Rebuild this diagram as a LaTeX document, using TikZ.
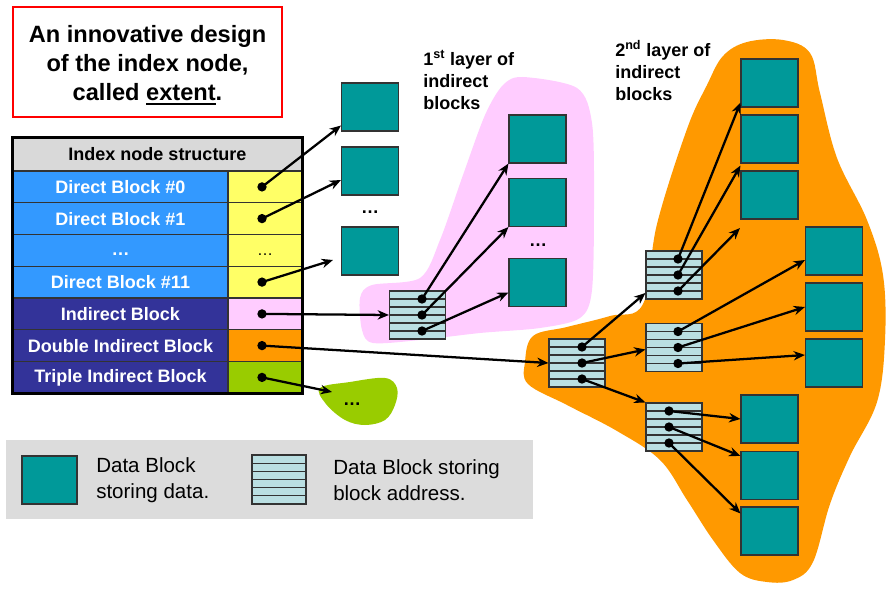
\documentclass[tikz,border=0pt]{standalone}
\usepackage{fontspec}
\setmainfont{Liberation Sans}
\usetikzlibrary{arrows.meta,calc}
\definecolor{tealblk}{HTML}{009999}
\definecolor{addrfill}{HTML}{BADFE2}
\definecolor{hdrgray}{HTML}{D9D9D9}
\definecolor{dirblue}{HTML}{3399FF}
\definecolor{navy}{HTML}{333399}
\definecolor{yel}{HTML}{FFFF66}
\definecolor{pinkc}{HTML}{FFCCFF}
\definecolor{orangec}{HTML}{FF9900}
\definecolor{greenc}{HTML}{99CC00}
\definecolor{leggray}{HTML}{DCDCDC}
\definecolor{edge}{HTML}{333333}
\newsavebox\ulbox
\newcommand\thickul[1]{\sbox\ulbox{#1}\rlap{\rule[-3.5pt]{\wd\ulbox}{1.6pt}}\usebox\ulbox}
\tikzset{
  datablk/.style={draw=edge, line width=0.8pt, fill=tealblk, inner sep=0pt, minimum width=42.75pt, minimum height=36pt},
  addrblk/.style={draw=edge, line width=0.8pt, fill=addrfill, inner sep=0pt, minimum width=42pt, minimum height=36pt,
    path picture={\foreach \i in {1,...,5}{\draw[edge, line width=0.8pt] ($(path picture bounding box.north west)!\i/6!(path picture bounding box.south west)$) -- ($(path picture bounding box.north east)!\i/6!(path picture bounding box.south east)$);}}},
  lcell/.style={draw=edge, line width=0.8pt, inner sep=0pt, minimum width=161.25pt, minimum height=23.8pt, text=white, font=\fontsize{13.5}{16}\selectfont\bfseries},
  vcell/.style={draw=edge, line width=0.8pt, inner sep=0pt, minimum width=55.5pt, minimum height=23.8pt, font=\fontsize{13.5}{16}\selectfont\bfseries},
  dotn/.style={circle, fill=black, inner sep=0pt, minimum size=7pt},
  arr/.style={line width=1.7pt, -{Stealth[length=8.5pt,width=7pt]}},
  lbl/.style={align=left, inner sep=0pt, anchor=north west, font=\fontsize{13.5}{16.5}\selectfont\bfseries},
  legtxt/.style={align=left, inner sep=0pt, anchor=west, font=\fontsize{15.4}{19.5}\selectfont},
  ellip/.style={font=\fontsize{13.5}{16}\selectfont\bfseries, inner sep=0pt}
}
\begin{document}
\begin{tikzpicture}[x=0.75pt, y=-0.75pt]
\useasboundingbox (0,0) rectangle (893,592);
% blobs
\fill[orangec] plot[smooth cycle, tension=0.6] coordinates {(643,304) (610,316) (567,327) (533,336) (525,362) (528,384) (567,405) (617,431) (660,460) (687,500) (713,540) (740,573) (767,582) (793,580) (813,562) (830,504) (850,456) (877,402) (885,340) (883,275) (867,220) (837,158) (820,93) (810,53) (783,40) (747,42) (723,56) (707,85) (687,129) (657,224)};
\fill[pinkc] plot[smooth cycle, tension=0.5] coordinates {(523,77) (577,88) (592,123) (594,200) (592,290) (580,318) (540,328) (480,333) (420,340) (373,343) (362,330) (360,298) (372,285) (420,278) (440,240) (463,175) (485,115) (503,85)};
\fill[greenc] plot[smooth cycle, tension=0.6] coordinates {(320,388) (350,382) (385,378) (397,388) (395,405) (385,420) (365,425) (345,420) (326,404)};
\node[ellip] (gdots) at (352,404) {\dots};

% title
\node[draw=red, line width=2pt, inner sep=0pt, minimum width=201.75pt, minimum height=82.5pt] (titlebox) at (147.5,62) {};
\node[align=center, inner sep=0pt, font=\fontsize{17.7}{21.75}\selectfont\bfseries] (title) at ($(titlebox.center)+(0,3)$) {An innovative design\\of the index node,\\called \thickul{extent}.};

% table
\node[draw=edge, line width=0.8pt, fill=hdrgray, inner sep=0pt, minimum width=216.75pt, minimum height=24.75pt, font=\fontsize{13.5}{16}\selectfont\bfseries] (hdr) at (157.5,154.5) {Index node structure};
\node[lcell, fill=dirblue] (l1) at (120.5,186.9) {Direct Block \#0};
\node[lcell, fill=dirblue] (l2) at (120.5,218.6) {Direct Block \#1};
\node[lcell, fill=dirblue] (l3) at (120.5,250.4) {};
\node[lcell, fill=dirblue] (l4) at (120.5,282.1) {Direct Block \#11};
\node[lcell, fill=navy] (l5) at (120.5,313.9) {Indirect Block};
\node[lcell, fill=navy] (l6) at (120.5,345.6) {Double Indirect Block};
\node[lcell, fill=navy] (l7) at (120.5,377.4) {Triple Indirect Block};
\node[vcell, fill=yel] (v1) at (265,186.9) {};
\node[vcell, fill=yel] (v2) at (265,218.6) {};
\node[vcell, fill=yel] (v3) at (265,250.4) {};
\node[vcell, fill=yel] (v4) at (265,282.1) {};
\node[vcell, fill=pinkc] (v5) at (265,313.9) {};
\node[vcell, fill=orangec] (v6) at (265,345.6) {};
\node[vcell, fill=greenc] (v7) at (265,377.4) {};
\node[ellip, text=white] (l3t) at ($(l3.center)+(0,4)$) {\dots};
\node[ellip, font=\fontsize{12}{14}\selectfont] (v3t) at ($(v3.center)+(0,4)$) {\dots};
\draw[line width=2pt] (hdr.north west) rectangle (v7.south east);

% direct data blocks
\node[datablk] (d1) at (370,107) {};
\node[datablk] (d2) at (370,171) {};
\node[datablk] (d3) at (370,251) {};
\node[ellip] (ddots) at (370,212) {\dots};

% first layer
\node[datablk] (p1) at (537.5,139) {};
\node[datablk] (p2) at (537.5,202.5) {};
\node[datablk] (p3) at (537.5,282.5) {};
\node[ellip] (pdots) at (538,245) {\dots};
\node[addrblk] (ab1) at (417.5,315) {};

% second layer
\node[addrblk] (ab2) at (577,363) {};
\node[addrblk] (abA) at (674,275) {};
\node[addrblk] (abB) at (674,347.5) {};
\node[addrblk] (abC) at (674,427) {};
\node[datablk] (q1) at (769.5,83) {};
\node[datablk] (q2) at (769.5,139) {};
\node[datablk] (q3) at (769.5,195) {};
\node[datablk] (q4) at (834,251) {};
\node[datablk] (q5) at (834,307) {};
\node[datablk] (q6) at (834,363) {};
\node[datablk] (q7) at (769.5,419) {};
\node[datablk] (q8) at (769.5,475.5) {};
\node[datablk] (q9) at (769.5,531) {};

% labels
\node[lbl] (lay1) at (423,50) {1\textsuperscript{st} layer of\\indirect\\blocks};
\node[lbl] (lay2) at (615,40) {2\textsuperscript{nd} layer of\\indirect\\blocks};

% legend
\fill[leggray] (6,440) rectangle (533,519);
\node[datablk, minimum width=41.25pt] (lg1) at (49.5,480) {};
\node[legtxt] (lgt1) at (96,480) {Data Block\\storing data.};
\node[addrblk, minimum width=40.5pt, minimum height=36.75pt] (lg2) at (279,479.5) {};
\node[legtxt] (lgt2) at (333,480) {Data Block storing\\block address.};

% dots
\node[dotn] (r1) at (262,186.9) {};
\node[dotn] (r2) at (262,218.6) {};
\node[dotn] (r4) at (262,282.1) {};
\node[dotn] (r5) at (262,313.9) {};
\node[dotn] (r6) at (262,345.6) {};
\node[dotn] (r7) at (262,377.4) {};
\node[dotn] (a11) at ($(ab1.center)+(4.5,-16)$) {};
\node[dotn] (a12) at ($(ab1.center)+(4.5,0)$) {};
\node[dotn] (a13) at ($(ab1.center)+(4.5,16)$) {};
\node[dotn] (a21) at ($(ab2.center)+(5,-16)$) {};
\node[dotn] (a22) at ($(ab2.center)+(5,0)$) {};
\node[dotn] (a23) at ($(ab2.center)+(5,16)$) {};
\node[dotn] (aA1) at ($(abA.center)+(4,-16)$) {};
\node[dotn] (aA2) at ($(abA.center)+(4,0)$) {};
\node[dotn] (aA3) at ($(abA.center)+(4,16)$) {};
\node[dotn] (aB1) at ($(abB.center)+(4,-16)$) {};
\node[dotn] (aB2) at ($(abB.center)+(4,0)$) {};
\node[dotn] (aB3) at ($(abB.center)+(4,16)$) {};
\node[dotn] (aC1) at ($(abC.center)+(-5,-16)$) {};
\node[dotn] (aC2) at ($(abC.center)+(-5,0)$) {};
\node[dotn] (aC3) at ($(abC.center)+(-5,16)$) {};

% free ends
\coordinate (e4) at (333,260);
\coordinate (e7) at (332,392);
\coordinate (eA3) at (740,228);

% arrows
\draw[arr] (r1.center) -- ($(d1.south west)+(0,-6)$);
\draw[arr] (r2.center) -- ($(d2.west)+(0,9)$);
\draw[arr] (r4.center) -- (e4);
\draw[arr] (r5.center) -- (ab1.west);
\draw[arr] (r6.center) -- (ab2.west);
\draw[arr] (r7.center) -- (e7);
\draw[arr] (a11.center) -- (p1.south west);
\draw[arr] (a12.center) -- (p2.south west);
\draw[arr] (a13.center) -- ($(p3.west)+(0,10)$);
\draw[arr] (a21.center) -- ($(abA.west)+(0,18)$);
\draw[arr] (a22.center) -- ($(abB.west)+(0,2)$);
\draw[arr] (a23.center) -- (abC.north west);
\draw[arr] (aA1.center) -- ($(q1.south west)+(0,-5)$);
\draw[arr] (aA2.center) -- ($(q2.south west)+(0,2)$);
\draw[arr] (aA3.center) -- (eA3);
\draw[arr] (aB1.center) -- ($(q4.west)+(0,9)$);
\draw[arr] (aB2.center) -- (q5.west);
\draw[arr] (aB3.center) -- ($(q6.west)+(0,-8)$);
\draw[arr] (aC1.center) -- (q7.west);
\draw[arr] (aC2.center) -- ($(q8.north west)+(0,5)$);
\draw[arr] (aC3.center) -- ($(q9.north west)+(0,7)$);
\end{tikzpicture}
\end{document}
